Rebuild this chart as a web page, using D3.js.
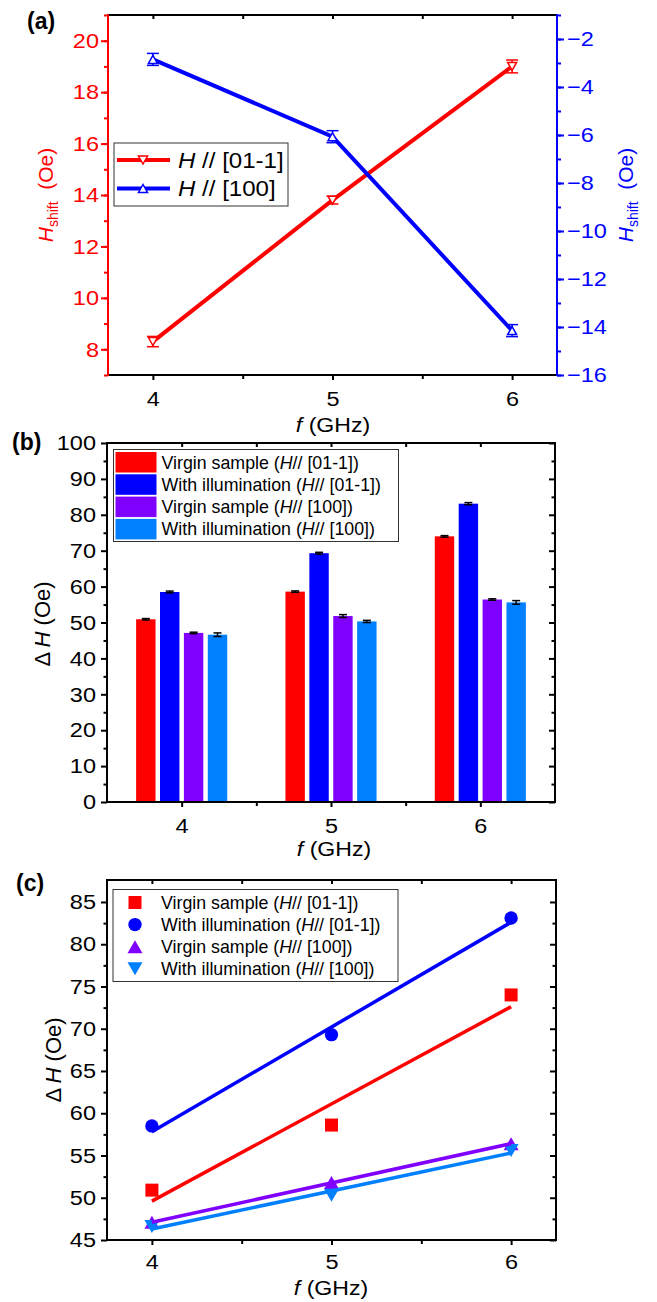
<!DOCTYPE html>
<html>
<head>
<meta charset="utf-8">
<script src="https://cdn.jsdelivr.net/npm/d3@7"></script>
<style>
  body { margin: 0; background: #fff; }
  text { font-family: "Liberation Sans", Arial, sans-serif; }
</style>
</head>
<body>
<svg id="fig"></svg>
<script>
// ---- data ----
const freqs = [4, 5, 6];

// (a) resonance field shift
const shift011 = [8.3, 13.8, 19.0];
const shift011Err = [0.2, 0.15, 0.25];
const shift100 = [-2.85, -6.07, -14.15];
const shift100Err = [0.25, 0.25, 0.25];

// (b) / (c) linewidth
const virgin011 = [50.9, 58.6, 74.0];
const illum011 = [58.5, 69.3, 83.1];
const virgin100 = [47.1, 51.8, 56.4];
const illum100 = [46.6, 50.3, 55.6];
const virgin011Err = [0.2, 0.2, 0.2];
const illum011Err = [0.25, 0.25, 0.3];
const virgin100Err = [0.2, 0.4, 0.2];
const illum100Err = [0.5, 0.3, 0.5];

// (c) linear fits, value at f = 4 and f = 6
const fitEnds = [4, 6];
const fitVirgin011 = [49.6, 72.6];
const fitIllum011 = [57.8, 82.6];
const fitVirgin100 = [47.1, 56.4];
const fitIllum100 = [46.3, 55.3];

const seriesLabels = [
  ["Virgin sample (", "H", "// [01-1])"],
  ["With illumination (", "H", "// [01-1])"],
  ["Virgin sample (", "H", "// [100])"],
  ["With illumination (", "H", "// [100])"]
];
const seriesColors = ["#ff0000", "#0000ff", "#8000ff", "#0080ff"];

const svg = d3.select("#fig").attr("width", 657).attr("height", 1302);

// widen glyphs a bit, the original labels are broader than Arial
function stretch(sel, s) {
  sel.each(function () {
    const t = d3.select(this);
    const x = +t.attr("x") || 0;
    t.attr("x", x / s).attr("transform", `scale(${s},1)`);
  });
}

function addAxis(gen, x, y, color, fs) {
  const a = svg.append("g").attr("transform", `translate(${x},${y})`).call(gen);
  a.select(".domain").remove();
  a.selectAll("line").attr("stroke", color).attr("stroke-width", 2);
  a.selectAll("text").attr("fill", color).attr("font-size", fs)
    .attr("font-family", "Liberation Sans, Arial, sans-serif");
  stretch(a.selectAll("text"), 1.12);
  return a;
}

function edge(x1, y1, x2, y2, color) {
  svg.append("line").attr("x1", x1).attr("y1", y1).attr("x2", x2).attr("y2", y2)
    .attr("stroke", color).attr("stroke-width", 2).attr("stroke-linecap", "square");
}

function tri(cx, cy, w, h, down) {
  const s = down ? -1 : 1;
  return `M${cx - w / 2},${cy + s * h / 2}L${cx + w / 2},${cy + s * h / 2}L${cx},${cy - s * h / 2}Z`;
}

function hLabel(x, y, color, subSize, fs) {
  const t = svg.append("text").attr("fill", color).attr("font-size", fs)
    .attr("text-anchor", "middle")
    .attr("transform", `translate(${x},${y}) rotate(-90)`);
  t.append("tspan").attr("font-style", "italic").text("H");
  t.append("tspan").attr("font-size", subSize).attr("dy", 5).text("shift");
  t.append("tspan").attr("dy", -5).text("\u00a0 (Oe)");
}

function dhLabel(x, y) {
  const t = svg.append("text").attr("font-size", 22).attr("text-anchor", "middle")
    .attr("transform", `translate(${x},${y}) rotate(-90)`);
  t.append("tspan").text("\u0394\u2009");
  t.append("tspan").attr("font-style", "italic").text("H");
  t.append("tspan").text(" (Oe)");
}

function fLabel(x, y) {
  const t = svg.append("text").attr("font-size", 21).attr("text-anchor", "middle")
    .attr("x", x).attr("y", y);
  t.append("tspan").attr("font-style", "italic").text("f");
  t.append("tspan").text(" (GHz)");
  stretch(t, 1.1);
}

function panelTag(x, y, s) {
  svg.append("text").attr("x", x).attr("y", y).attr("font-size", 23)
    .attr("font-weight", "bold").text(s);
}

function legendText(x, y, parts, fs) {
  const t = svg.append("text").attr("x", x).attr("y", y).attr("font-size", fs);
  t.append("tspan").text(parts[0]);
  t.append("tspan").attr("font-style", "italic").text(parts[1]);
  t.append("tspan").text(parts[2]);
}

// =============== (a) ===============
{
  const L = 108, R = 557, T = 15, B = 375;
  const x = d3.scaleLinear().domain([3.75, 6.25]).range([L, R]);
  const yL = d3.scaleLinear().domain([7, 21]).range([B, T]);
  const yR = d3.scaleLinear().domain([-16, -1]).range([B, T]);

  addAxis(d3.axisLeft(yL).tickValues(d3.range(8, 21, 2)).tickSize(7).tickPadding(2).tickSizeOuter(0), L, 0, "#ff0000", 21);
  addAxis(d3.axisLeft(yL).tickValues(d3.range(7, 22, 1)).tickSize(4).tickFormat("").tickSizeOuter(0), L, 0, "#ff0000", 21);
  addAxis(d3.axisRight(yR).tickValues(d3.range(-16, -1, 2)).tickSize(7).tickPadding(3).tickSizeOuter(0), R, 0, "#0000ff", 21);
  addAxis(d3.axisRight(yR).tickValues(d3.range(-16, 0, 1)).tickSize(4).tickFormat("").tickSizeOuter(0), R, 0, "#0000ff", 21);
  addAxis(d3.axisBottom(x).tickValues(freqs).tickSize(5).tickPadding(11).tickFormat(d3.format("d")).tickSizeOuter(0), 0, B, "#000", 21);
  addAxis(d3.axisBottom(x).tickValues([4.5, 5.5]).tickSize(4).tickFormat("").tickSizeOuter(0), 0, B, "#000", 21);
  addAxis(d3.axisBottom(x).tickValues([4, 4.5, 5, 5.5, 6]).tickSize(4).tickFormat("").tickSizeOuter(0), 0, T, "#000", 21);

  edge(L, T, R, T, "#000");
  edge(L, B, R, B, "#000");
  edge(L, T, L, B, "#ff0000");
  edge(R, T, R, B, "#0000ff");

  const sets = [
    { v: shift011, e: shift011Err, y: yL, c: "#ff0000", down: true },
    { v: shift100, e: shift100Err, y: yR, c: "#0000ff", down: false }
  ];
  sets.forEach(s => {
    svg.append("path")
      .attr("d", d3.line().x((d, i) => x(freqs[i])).y(d => s.y(d))(s.v))
      .attr("fill", "none").attr("stroke", s.c).attr("stroke-width", 4);
    const g = svg.append("g").attr("stroke", s.c).attr("stroke-width", 1.5);
    s.v.forEach((d, i) => {
      const cx = x(freqs[i]), y1 = s.y(d + s.e[i]), y2 = s.y(d - s.e[i]);
      g.append("line").attr("x1", cx).attr("x2", cx).attr("y1", y1).attr("y2", y2);
      g.append("line").attr("x1", cx - 6).attr("x2", cx + 6).attr("y1", y1).attr("y2", y1);
      g.append("line").attr("x1", cx - 6).attr("x2", cx + 6).attr("y1", y2).attr("y2", y2);
      g.append("path").attr("d", tri(cx, s.y(d), 9, 8, s.down)).attr("fill", "#fff");
    });
  });

  // legend
  svg.append("rect").attr("x", 114).attr("y", 143).attr("width", 174).attr("height", 63)
    .attr("fill", "#fff").attr("stroke", "#333").attr("stroke-width", 1);
  const legA = [["H", " // [01-1]"], ["H", " // [100]"]];
  sets.forEach((s, i) => {
    const cy = 160 + i * 28.5;
    svg.append("line").attr("x1", 117).attr("x2", 170).attr("y1", cy).attr("y2", cy)
      .attr("stroke", s.c).attr("stroke-width", 4);
    svg.append("path").attr("d", tri(143, cy, 9, 8, s.down)).attr("fill", "#fff")
      .attr("stroke", s.c).attr("stroke-width", 1.5);
    const t = svg.append("text").attr("x", 178).attr("y", cy + 8).attr("font-size", 22.5);
    t.append("tspan").attr("font-style", "italic").text(legA[i][0]);
    t.append("tspan").text(legA[i][1]);
    stretch(t, 1.07);
  });

  hLabel(53, 195, "#ff0000", 14, 21);
  hLabel(633, 195, "#0000ff", 14, 21);
  fLabel(333, 432);
  panelTag(27, 29, "(a)");
}

// =============== (b) ===============
{
  const L = 107, R = 555, T = 443, B = 802;
  const x = d3.scaleLinear().domain([3.5, 6.5]).range([L, R]);
  const y = d3.scaleLinear().domain([0, 100]).range([B, T]);

  const data = [virgin011, illum011, virgin100, illum100];
  const errs = [virgin011Err, illum011Err, virgin100Err, illum100Err];
  const offs = [-0.24, -0.08, 0.08, 0.24];
  const bw = x(4.13) - x(4);

  data.forEach((vals, k) => {
    vals.forEach((v, i) => {
      const cx = x(freqs[i] + offs[k]);
      svg.append("rect").attr("x", cx - bw / 2).attr("y", y(v)).attr("width", bw)
        .attr("height", y(0) - y(v)).attr("fill", seriesColors[k]);
      const y1 = y(v + errs[k][i]), y2 = y(v - errs[k][i]);
      const g = svg.append("g").attr("stroke", "#000").attr("stroke-width", 1.5);
      g.append("line").attr("x1", cx).attr("x2", cx).attr("y1", y1).attr("y2", y2);
      g.append("line").attr("x1", cx - 4).attr("x2", cx + 4).attr("y1", y1).attr("y2", y1);
      g.append("line").attr("x1", cx - 4).attr("x2", cx + 4).attr("y1", y2).attr("y2", y2);
    });
  });

  addAxis(d3.axisLeft(y).tickValues(d3.range(0, 101, 10)).tickSize(6).tickPadding(5).tickSizeOuter(0), L, 0, "#000", 21);
  addAxis(d3.axisLeft(y).tickValues(d3.range(5, 100, 10)).tickSize(3.5).tickFormat("").tickSizeOuter(0), L, 0, "#000", 21);
  addAxis(d3.axisLeft(y).tickValues(d3.range(0, 101, 10)).tickSize(6).tickFormat("").tickSizeOuter(0), R, 0, "#000", 21);
  addAxis(d3.axisLeft(y).tickValues(d3.range(5, 100, 10)).tickSize(3.5).tickFormat("").tickSizeOuter(0), R, 0, "#000", 21);
  addAxis(d3.axisBottom(x).tickValues(freqs).tickSize(5).tickPadding(11).tickFormat(d3.format("d")).tickSizeOuter(0), 0, B, "#000", 21);
  addAxis(d3.axisBottom(x).tickValues([4.5, 5.5]).tickSize(4).tickFormat("").tickSizeOuter(0), 0, B, "#000", 21);
  addAxis(d3.axisBottom(x).tickValues([4, 4.5, 5, 5.5, 6]).tickSize(4).tickFormat("").tickSizeOuter(0), 0, T, "#000", 21);
  edge(L, T, R, T, "#000");
  edge(L, B, R, B, "#000");
  edge(L, T, L, B, "#000");
  edge(R, T, R, B, "#000");

  // legend
  svg.append("rect").attr("x", 113.5).attr("y", 449.5).attr("width", 285).attr("height", 92)
    .attr("fill", "#fff").attr("stroke", "#333").attr("stroke-width", 1);
  seriesLabels.forEach((lab, k) => {
    const top = 452 + k * 22.3;
    svg.append("rect").attr("x", 115.5).attr("y", top).attr("width", 41).attr("height", 20.5)
      .attr("fill", seriesColors[k]);
    legendText(161.5, top + 16.5, lab, 17.8);
  });

  dhLabel(50, 624);
  fLabel(334, 856);
  panelTag(12, 450, "(b)");
}

// =============== (c) ===============
{
  const L = 107, R = 556, T = 880, B = 1240;
  const x = d3.scaleLinear().domain([3.75, 6.25]).range([L, R]);
  const y = d3.scaleLinear().domain([45, 87.6]).range([B, T]);

  addAxis(d3.axisLeft(y).tickValues(d3.range(45, 86, 5)).tickSize(6).tickPadding(5).tickSizeOuter(0), L, 0, "#000", 21);
  addAxis(d3.axisLeft(y).tickValues(d3.range(47.5, 87, 5)).tickSize(3.5).tickFormat("").tickSizeOuter(0), L, 0, "#000", 21);
  addAxis(d3.axisLeft(y).tickValues(d3.range(45, 86, 5)).tickSize(6).tickFormat("").tickSizeOuter(0), R, 0, "#000", 21);
  addAxis(d3.axisLeft(y).tickValues(d3.range(47.5, 87, 5)).tickSize(3.5).tickFormat("").tickSizeOuter(0), R, 0, "#000", 21);
  addAxis(d3.axisBottom(x).tickValues(freqs).tickSize(5).tickPadding(9).tickFormat(d3.format("d")).tickSizeOuter(0), 0, B, "#000", 21);
  addAxis(d3.axisBottom(x).tickValues([4.5, 5.5]).tickSize(4).tickFormat("").tickSizeOuter(0), 0, B, "#000", 21);
  addAxis(d3.axisBottom(x).tickValues([4, 4.5, 5, 5.5, 6]).tickSize(4).tickFormat("").tickSizeOuter(0), 0, T, "#000", 21);
  edge(L, T, R, T, "#000");
  edge(L, B, R, B, "#000");
  edge(L, T, L, B, "#000");
  edge(R, T, R, B, "#000");

  const pts = [virgin011, illum011, virgin100, illum100];
  const fits = [fitVirgin011, fitIllum011, fitVirgin100, fitIllum100];
  const drawMarker = (k, cx, cy) => {
    if (k === 1) {
      svg.append("circle").attr("cx", cx).attr("cy", cy).attr("r", 6.7).attr("fill", seriesColors[k]);
    } else if (k === 0) {
      svg.append("rect").attr("x", cx - 6.5).attr("y", cy - 6.5).attr("width", 13).attr("height", 13)
        .attr("fill", seriesColors[k]);
    } else {
      svg.append("path").attr("d", tri(cx, cy, 15, 13, k === 3)).attr("fill", seriesColors[k]);
    }
  };

  pts.forEach((vals, k) => {
    vals.forEach((v, i) => drawMarker(k, x(freqs[i]), y(v)));
  });
  fits.forEach((f, k) => {
    svg.append("path")
      .attr("d", d3.line().x((d, i) => x(fitEnds[i])).y(d => y(d))(f))
      .attr("fill", "none").attr("stroke", seriesColors[k]).attr("stroke-width", 3.5);
  });

  // legend
  svg.append("rect").attr("x", 113).attr("y", 889.5).attr("width", 285).attr("height", 92)
    .attr("fill", "#fff").attr("stroke", "#333").attr("stroke-width", 1);
  seriesLabels.forEach((lab, k) => {
    const cy = 902.5 + k * 22.1;
    drawMarker(k, 135, cy);
    legendText(161, cy + 6.5, lab, 17.8);
  });

  dhLabel(61, 1060);
  fLabel(331, 1295);
  panelTag(16, 891, "(c)");
}
</script>
</body>
</html>
